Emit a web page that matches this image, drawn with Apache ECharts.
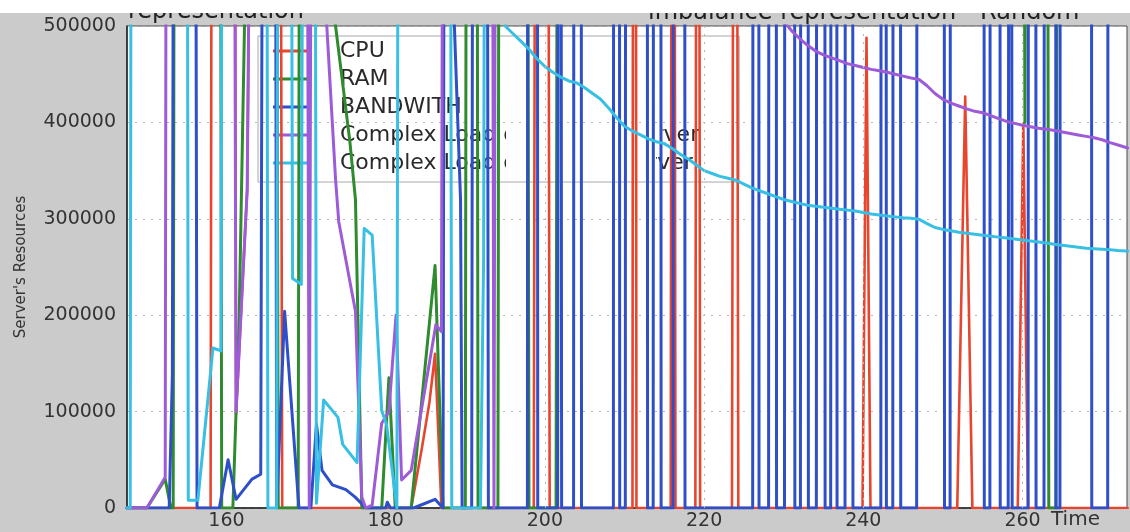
<!DOCTYPE html>
<html>
<head>
<meta charset="utf-8">
<script src="https://cdn.jsdelivr.net/npm/echarts@6/dist/echarts.min.js"></script>
<style>
  html, body { margin: 0; padding: 0; background: #ffffff; }
  #chart { position: absolute; left: 0; top: 13px; width: 1130px; height: 519px; }
</style>
</head>
<body>
<div id="chart"></div>
<script>
// Server resource usage over time, one polyline per resource.
const seriesNames = ['CPU', 'RAM', 'BANDWITH', 'Complex Load of the Max Server', 'Complex Load of the Min Server'];
const seriesColors = ['#e8452f', '#2e8b2e', '#2f4fc9', '#9e5bd8', '#38bfe4'];
const xTickLabels = [160, 180, 200, 220, 240, 260];
const xGridLines = [200, 220, 240, 260];

// [time, value] samples
const cpuLoad = [
  [147.5, 0], [158.0, 0], [158.4, 2100000], [160.8, 1900000], [161.2, 97000], [162.6, 330000],
  [163.8, 1400000], [166.6, 1500000], [167.0, 0],
  [183.2, 0], [184.5, 60000], [185.5, 110000], [186.2, 160000], [187.0, 0],
  [198.6, 0], [199.0, 1800000], [200.2, 1700000], [200.6, 0],
  [211.0, 0], [211.25, 2500000], [211.5, 0],
  [215.8, 0], [216.1, 2000000], [216.4, 0],
  [218.9, 0], [219.2, 1900000], [219.5, 0],
  [223.5, 0], [223.9, 1700000], [224.3, 0],
  [239.9, 0], [240.4, 487800], [240.9, 0],
  [251.8, 0], [252.8, 426800], [253.7, 0],
  [259.4, 0], [260.1, 399000], [260.7, 0],
  [273.2, 0]
];

const ramLoad = [
  [147.5, 0], [150.0, 0], [152.3, 30000], [153.0, 0], [153.3, 0], [153.6, 1600000], [159.0, 1800000],
  [159.4, 0], [160.8, 0], [161.6, 200000], [162.7, 700000], [166.0, 1700000], [166.5, 0], [169.0, 0],
  [169.5, 2000000], [172.8, 2200000], [173.4, 520000], [175.5, 380000], [176.2, 320000], [177.0, 0],
  [179.5, 0], [180.4, 135000], [181.2, 0], [183.2, 0], [186.2, 251500], [187.2, 0], [190.0, 0],
  [190.3, 1800000], [191.3, 1900000], [191.6, 0], [194.1, 0], [194.4, 1700000],
  [197.6, 1800000], [198.0, 0], [201.4, 0], [201.8, 1900000],
  [259.9, 1700000], [260.3, 400000], [260.7, 1600000],
  [263.0, 1500000], [263.3, 0], [264.2, 0], [264.5, 1600000], [273.2, 1500000]
];

const bandwidthLoad = [
  [147.5, 0], [152.8, 0], [153.2, 138000], [153.6, 1800000], [155.9, 1700000], [156.3, 0], [159.1, 0],
  [160.2, 50000], [161.2, 9000], [163.2, 30000], [164.3, 35000], [164.8, 1600000], [166.0, 1500000],
  [166.3, 0], [167.3, 204000], [169.1, 0], [170.6, 0], [171.3, 87000], [172.0, 39000], [173.3, 24000],
  [175.0, 19000], [176.2, 11000], [177.5, 0], [180.0, 0], [180.2, 6000], [180.6, 0], [183.5, 0],
  [186.2, 9000], [187.2, 0], [187.5, 1500000], [188.2, 600000], [189.4, 320000], [189.6, 0],
  [190.8, 0], [191.1, 1700000], [192.6, 1600000], [192.9, 0],
  [197.8, 0], [197.9, 2000000], [199.0, 1900000], [199.1, 0],
  [201.6, 0], [201.85, 2600000], [202.1, 0],
  [203.6, 0], [203.7, 2100000], [204.5, 2000000], [204.6, 0],
  [208.6, 0], [208.7, 2200000], [209.3, 2000000], [209.4, 0],
  [210.1, 0], [210.2, 2300000], [212.8, 2100000], [212.9, 0],
  [213.6, 0], [213.7, 2000000], [214.5, 2200000], [214.6, 0],
  [216.1, 0], [216.2, 2400000], [217.5, 2100000], [217.6, 0],
  [226.1, 0], [226.2, 2000000], [226.8, 2300000], [226.9, 0],
  [228.1, 0], [228.2, 2200000], [229.0, 2100000], [229.1, 0],
  [230.1, 0], [230.2, 2500000], [231.3, 2000000], [231.4, 0],
  [232.1, 0], [232.2, 2100000], [233.0, 2300000], [233.1, 0],
  [234.1, 0], [234.2, 2000000], [235.1, 2200000], [235.2, 0],
  [235.9, 0], [236.0, 2400000], [236.6, 2100000], [236.7, 0],
  [237.7, 0], [237.8, 2200000], [238.6, 2000000], [238.7, 0],
  [242.2, 0], [242.3, 2300000], [242.8, 2100000], [242.9, 0],
  [243.7, 0], [243.8, 2000000], [244.6, 2400000], [244.7, 0],
  [246.7, 0], [246.8, 2100000], [250.1, 2200000], [250.2, 0],
  [250.9, 0], [251.0, 2300000], [255.1, 2000000], [255.2, 0],
  [255.9, 0], [256.0, 2200000], [257.1, 2100000], [257.2, 0],
  [258.2, 0], [258.45, 2500000], [258.7, 0],
  [260.7, 0], [260.8, 2000000], [261.6, 2300000], [261.7, 0],
  [262.7, 0], [262.8, 2100000], [264.1, 2200000], [264.2, 0],
  [264.7, 0], [264.8, 2400000], [268.6, 2000000], [268.7, 0],
  [270.7, 0], [270.8, 2200000], [273.2, 2100000]
];

const complexLoadMax = [
  [147.5, 0], [150.0, 0], [152.3, 32000], [152.6, 1700000], [160.6, 1900000], [161.2, 100000],
  [162.6, 330000], [163.8, 1500000], [169.8, 1600000], [170.4, 0], [170.6, 0], [170.9, 1500000],
  [172.0, 1400000], [172.6, 500000], [173.7, 341000], [174.1, 297000], [176.2, 204000], [177.0, 11000],
  [177.5, 0], [178.3, 3000], [179.5, 88000], [180.4, 100000], [181.3, 200000], [182.0, 29000],
  [183.2, 39000], [186.3, 190000], [187.0, 183000], [187.4, 1500000], [193.2, 1500000], [193.6, 0],
  [194.0, 1600000], [200, 1100000], [210, 900000], [220, 700000], [225, 600000], [228, 540000],
  [229, 520000], [230, 505000], [231, 495000], [232, 487000], [233, 480000], [234, 474000],
  [235, 470000], [236, 467000], [237, 464000], [238, 461000], [239, 459000], [240, 457000],
  [241, 455000], [242, 453500], [243, 452000], [244, 450000], [245, 448000], [246, 446000],
  [247, 444500], [248, 438000], [249, 430000], [250, 424000], [251, 420000], [252, 417000],
  [253, 414000], [254, 411500], [255, 410000], [256, 407000], [257, 404000], [258, 401000],
  [259, 399000], [260, 397000], [261, 395500], [262, 394000], [263, 393000], [264, 391500],
  [265, 390000], [266, 388500], [267, 387000], [268, 385500], [269, 384000], [270, 382000],
  [271, 379000], [272, 376500], [273, 374000], [273.2, 373500]
];

const complexLoadMin = [
  [147.5, 0], [147.9, 0], [148.2, 1800000], [154.9, 1700000], [155.2, 8000], [156.4, 8000],
  [158.3, 166000], [159.3, 163000], [159.7, 1800000], [164.9, 1700000], [165.2, 0], [166.3, 0],
  [166.6, 1500000], [167.9, 1400000], [168.3, 238000], [169.4, 232000], [169.8, 1200000],
  [171.0, 1300000], [171.3, 5000], [172.2, 112000], [174.0, 94000], [174.6, 66000], [176.4, 47000],
  [177.3, 290000], [178.3, 283000], [179.5, 101000], [180.1, 87000], [181.4, 0], [181.8, 1800000],
  [187.9, 1700000], [188.3, 0], [191.9, 0], [192.3, 258000], [192.6, 1400000], [194.0, 1100000],
  [195, 500000], [196, 492000], [197, 484000], [198, 476000], [199, 466000], [200, 458000],
  [201, 452000], [202, 447000], [203, 443000], [204, 441000], [205, 436000], [206, 430000],
  [207, 424000], [208, 415000], [209, 405000], [210, 396000], [211, 391000], [212, 387000],
  [213, 383000], [214, 380000], [215, 378000], [216, 373000], [217, 367000], [218, 362000],
  [219, 356000], [220, 350000], [221, 347000], [222, 344000], [223, 342000], [224, 340000],
  [225, 336000], [226, 332000], [227, 329000], [228, 326000], [229, 323000], [230, 320000],
  [231, 318000], [232, 316000], [233, 314000], [234, 313000], [235, 312000], [236, 311000],
  [237, 310000], [238, 309000], [239, 308000], [240, 306500], [241, 305000], [242, 304000],
  [243, 303000], [244, 302000], [245, 301000], [246, 300500], [247, 299600], [248, 295000],
  [249, 291000], [250, 289000], [251, 287500], [252, 286000], [253, 285000], [254, 284000],
  [255, 283000], [256, 282000], [257, 281000], [258, 280000], [259, 279000], [260, 278000],
  [261, 277000], [262, 276000], [263, 275000], [264, 273600], [265, 272500], [266, 271500],
  [267, 270500], [268, 269500], [269, 269000], [270, 268500], [271, 268000], [272, 267000],
  [273, 266500], [273.2, 266400]
];

const seriesData = [cpuLoad, ramLoad, bandwidthLoad, complexLoadMax, complexLoadMin];

const FONT = 'DejaVu Sans';
const LEGEND_FONT_SIZE = 22;

// Legend geometry (box edge, padding, icon, gap) used to place the strips
// that hide the middle of the two long legend names.
const legendLeft = 258, legendTop = 23, legendPadTop = 4, legendPadLeft = 15;
const iconWidth = 37, textPadLeft = 25, rowStep = 28;
const legendTextX = legendLeft + legendPadLeft + iconWidth + 5 + textPadLeft;

function textWidth(str) {
  const ctx = document.createElement('canvas').getContext('2d');
  ctx.font = LEGEND_FONT_SIZE + 'px "' + FONT + '"';
  return ctx.measureText(str).width;
}
function hiddenStrip(row) {
  const name = seriesNames[row];
  const end = legendTextX + textWidth(name.slice(0, name.lastIndexOf('ver'))) - 1;
  const top = legendTop + legendPadTop + row * rowStep - 1;
  return {
    type: 'rect', z: 1.5, silent: true,
    shape: { x: 506, y: top, width: Math.max(0, end - 506), height: rowStep },
    style: { fill: '#ffffff' }
  };
}

const series = seriesNames.map((name, i) => {
  const s = {
    name,
    type: 'line',
    data: seriesData[i],
    symbol: 'none',
    showSymbol: false,
    animation: false,
    emphasis: { disabled: true },
    lineStyle: { color: seriesColors[i], width: i === 0 ? 2.6 : 3, join: 'round', cap: 'round' },
    itemStyle: { color: seriesColors[i] },
    z: 2
  };
  if (i === 0) {
    s.markLine = {
      silent: true,
      symbol: ['none', 'none'],
      label: { show: false },
      lineStyle: { color: '#b9b9b9', width: 1, type: [2, 6] },
      data: xGridLines.map(v => ({ xAxis: v }))
    };
  }
  return s;
});

const chart = echarts.init(document.getElementById('chart'), null, { renderer: 'canvas' });
chart.setOption({
  animation: false,
  backgroundColor: '#cbcbcb',
  textStyle: { fontFamily: FONT },
  grid: {
    left: 127, right: -2, top: 13, bottom: 21,
    show: true, backgroundColor: '#ffffff', borderColor: '#4a4a4a', borderWidth: 1
  },
  xAxis: {
    type: 'value',
    min: 147.5,
    max: 273.125,
    splitNumber: 6,
    axisLine: { lineStyle: { color: '#222222', width: 1.5 } },
    axisTick: { show: false },
    splitLine: { show: false },
    axisLabel: {
      fontSize: 19, color: '#333333', fontFamily: FONT, margin: 4,
      formatter: v => (xTickLabels.indexOf(v) >= 0 ? String(v) : '')
    },
    name: 'Time',
    nameLocation: 'end',
    nameGap: -76,
    nameTextStyle: { fontSize: 20, color: '#333333', fontFamily: FONT, verticalAlign: 'top', lineHeight: 24 }
  },
  yAxis: {
    type: 'value',
    min: 0,
    max: 500000,
    interval: 100000,
    axisLine: { show: true, lineStyle: { color: '#222222', width: 1.5 } },
    axisTick: { show: false },
    axisLabel: { fontSize: 19, color: '#333333', fontFamily: FONT, margin: 11, formatter: v => String(v) },
    splitLine: { show: true, lineStyle: { color: '#b9b9b9', width: 1, type: [2, 6] } },
    name: "Server's Resources",
    nameLocation: 'middle',
    nameGap: 98,
    nameTextStyle: { fontSize: 15, color: '#333333', fontFamily: FONT }
  },
  legend: {
    orient: 'vertical',
    left: legendLeft,
    top: legendTop,
    z: 1,
    padding: [legendPadTop, 12, 8, legendPadLeft],
    itemGap: rowStep - 22,
    itemWidth: iconWidth,
    itemHeight: 3,
    icon: 'rect',
    borderColor: '#a8a8a8',
    borderWidth: 1,
    textStyle: {
      fontSize: LEGEND_FONT_SIZE, fontFamily: FONT, color: '#2a2a2a', lineHeight: 22,
      padding: [0, 28, 0, textPadLeft]
    },
    data: seriesNames
  },
  graphic: {
    elements: [
      hiddenStrip(3),
      hiddenStrip(4),
      {
        type: 'text', z: 50, x: 128, y: -13, silent: true,
        style: { text: 'representation', font: '24px "DejaVu Sans"', fill: '#222222', verticalAlign: 'top' }
      },
      {
        type: 'text', z: 50, x: 648, y: -12, silent: true,
        style: { text: 'imbalance representation - Random', font: '24px "DejaVu Sans"', fill: '#222222', verticalAlign: 'top' }
      }
    ]
  },
  series
});
</script>
</body>
</html>
